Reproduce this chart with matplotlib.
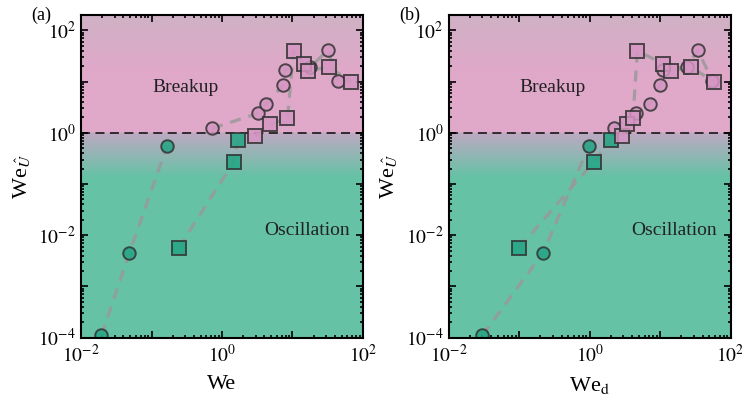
import numpy as np
import matplotlib
matplotlib.use('Agg')
import matplotlib.pyplot as plt
from matplotlib.colors import to_rgb
from matplotlib.ticker import LogLocator, NullFormatter

plt.rcParams['font.family'] = 'Liberation Serif'
plt.rcParams['mathtext.fontset'] = 'stix'

# We_U values (shared by both panels)
weu_circ_osc = [1.1e-4, 0.0045, 0.56]
weu_circ_brk = [1.22, 2.39, 3.7, 8.5, 17.0, 19.4, 41.0, 10.3]
weu_sq_osc = [0.0056, 0.272, 0.72]
weu_sq_brk = [0.875, 1.46, 1.91, 39.7, 22.5, 16.2, 19.4, 9.86]

# panel (a): We
we_circ_osc = [0.0195, 0.0486, 0.166]
we_circ_brk = [0.72, 3.24, 4.26, 7.33, 7.75, 17.9, 31.9, 44.2]
we_sq_osc = [0.243, 1.47, 1.69]
we_sq_brk = [2.98, 4.86, 8.46, 10.4, 14.8, 16.6, 32.6, 68.4]

# panel (b): We_d
wed_circ_osc = [0.030, 0.218, 0.98]
wed_circ_brk = [2.21, 4.49, 7.17, 9.94, 11.1, 23.8, 34.4, 55.0]
wed_sq_osc = [0.099, 1.15, 1.99]
wed_sq_brk = [2.91, 3.43, 4.11, 4.75, 10.96, 14.1, 27.1, 58.0]

ymin, ymax = 1e-4, 200
teal_face = '#22a585'
pink_face = '#d796c4'


def background(ax):
    n = 400
    ly = np.linspace(np.log10(ymin), np.log10(ymax), n)
    stops = [(-4.0, '#66c2a5'), (-0.85, '#66c2a5'), (-0.001, '#bda9c2'),
             (0.0, '#e0a8c9'), (1.2, '#e0a8c9'), (np.log10(ymax), '#cfb1c5')]
    xs = [s[0] for s in stops]
    cols = np.array([to_rgb(s[1]) for s in stops])
    img = np.zeros((n, 1, 3))
    for k in range(3):
        img[:, 0, k] = np.interp(ly, xs, cols[:, k])
    ax.imshow(img, extent=[0, 1, 0, 1], transform=ax.transAxes, origin='lower',
              aspect='auto', zorder=0, interpolation='bilinear')


def series(ax, x, y, marker, face):
    ax.plot(x, y, ls=(0, (3.5, 2.5)), color='#999999', lw=2.3, alpha=0.85, zorder=2)
    ax.plot(x, y, ls='none', marker=marker, ms=9.5 if marker == 's' else 9,
            mfc=face, mec='#333333', mew=1.4, alpha=0.85, zorder=3)


fig = plt.figure(figsize=(7.42, 3.96), dpi=100)
ax_a = fig.add_axes([0.1092, 0.1477, 0.380, 0.8144])
ax_b = fig.add_axes([0.6047, 0.1477, 0.380, 0.8144])

panels = [
    (ax_a, '(a)', 'We', we_circ_osc, we_circ_brk, we_sq_osc, we_sq_brk),
    (ax_b, '(b)', r'We$_\mathrm{d}$', wed_circ_osc, wed_circ_brk, wed_sq_osc, wed_sq_brk),
]

for ax, tag, xlab, xco, xcb, xso, xsb in panels:
    ax.set_xscale('log')
    ax.set_yscale('log')
    ax.set_xlim(1e-2, 1e2)
    ax.set_ylim(ymin, ymax)
    background(ax)
    ax.axhline(1.0, color='#222222', lw=1.3, ls=(0, (5, 3)), zorder=1)

    series(ax, xco, weu_circ_osc, 'o', teal_face)
    series(ax, xcb, weu_circ_brk, 'o', pink_face)
    series(ax, xso, weu_sq_osc, 's', teal_face)
    series(ax, xsb, weu_sq_brk, 's', pink_face)

    ax.text(0.37, 0.774, 'Breakup', transform=ax.transAxes, fontsize=14,
            ha='center', va='center', color='#222222')
    ax.text(0.80, 0.333, 'Oscillation', transform=ax.transAxes, fontsize=14,
            ha='center', va='center', color='#222222')
    ax.text(-0.175, 1.0, tag, transform=ax.transAxes, fontsize=13, ha='left', va='center')

    ax.set_xlabel(xlab, fontsize=16, labelpad=6)
    ax.set_ylabel(r'We$_{\hat{U}}$', fontsize=16, labelpad=5)

    ax.set_xticks([1e-2, 1e-1, 1, 10, 1e2])
    ax.set_xticklabels([r'$10^{-2}$', '', r'$10^{0}$', '', r'$10^{2}$'])
    ax.set_yticks([1e-4, 1e-3, 1e-2, 1e-1, 1, 10, 1e2])
    ax.set_yticklabels([r'$10^{-4}$', '', r'$10^{-2}$', '', r'$10^{0}$', '', r'$10^{2}$'])
    ax.xaxis.set_minor_locator(LogLocator(base=10, subs=np.arange(2, 10), numticks=20))
    ax.yaxis.set_minor_locator(LogLocator(base=10, subs=np.arange(2, 10), numticks=20))
    ax.xaxis.set_minor_formatter(NullFormatter())
    ax.yaxis.set_minor_formatter(NullFormatter())
    ax.tick_params(which='both', direction='in', top=True, right=True, labelsize=14, width=1.2)
    ax.tick_params(which='major', length=5)
    ax.tick_params(which='minor', length=2.5)
    ax.tick_params(axis='x', pad=5)
    for s in ax.spines.values():
        s.set_linewidth(1.5)
        s.set_zorder(5)

fig.savefig('out.png', dpi=100)
